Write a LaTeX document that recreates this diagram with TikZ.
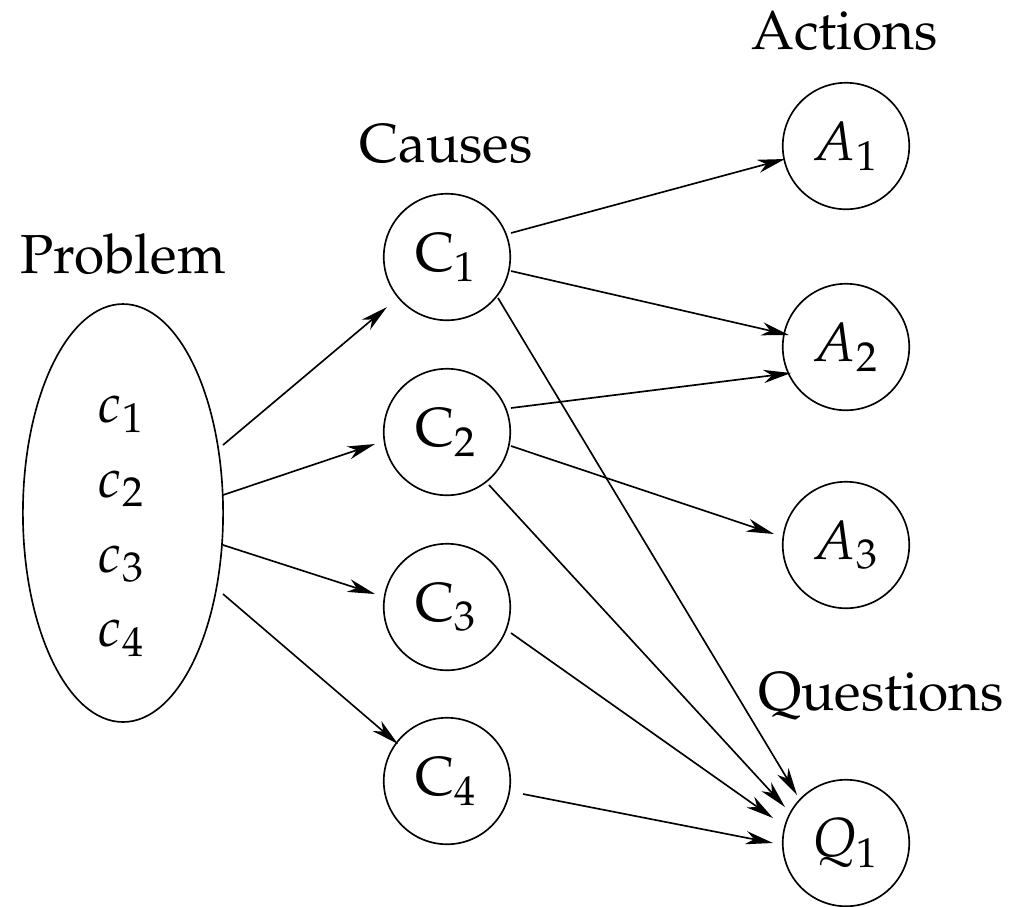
\documentclass[tikz,border=0pt]{standalone}
\usepackage[T1]{fontenc}
\usepackage{mathpazo}
\usepackage{tikz}
\usetikzlibrary{arrows.meta,shapes.geometric}

\begin{document}
\begin{tikzpicture}[x=0.18182pt,y=-0.18182pt,->,>={Stealth[length=5pt,width=2.4pt,inset=1.5pt]},
		line width=0.3pt,
		base node/.style={circle,draw,minimum size=23pt,inner sep=0pt},
		set node/.style={ellipse,draw,minimum width=36.4pt,minimum height=76pt,inner sep=0pt},
		head/.style={anchor=base}]
		\useasboundingbox (0,0) rectangle (1012,906);
		
		% problem
		\node[set node] (P) at (123,513) {};
		\foreach \i/\y in {1/422,2/497,3/572,4/646}
		\node[anchor=base] (c\i) at (122,\y) {$c_{\i}$};
		\node[head] (lprob) at (123,273) {Problem};
		
		% causes
		\node[base node] (C1) at (447,257) {$\mathrm{C}_1$};
		\node[base node] (C2) at (447,432) {$\mathrm{C}_2$};
		\node[base node] (C3) at (447,607) {$\mathrm{C}_3$};
		\node[base node] (C4) at (447,781) {$\mathrm{C}_4$};
		\node[head] (lcause) at (446,162) {Causes};
		
		% actions and questions
		\node[base node] (A1) at (846,146) {$A_1$};
		\node[base node] (A2) at (846,347) {$A_2$};
		\node[base node] (A3) at (846,545) {$A_3$};
		\node[base node] (Q1) at (846,843) {$Q_1$};
		\node[head] (lact) at (845,49) {Actions};
		\node[head] (lques) at (881,710) {Questions};
		
		\path
		([shift={(100,-68)}]P.center) edge ([shift={(-60,50)}]C1.center)
		([shift={(100,-18)}]P.center) edge ([shift={(-72,12)}]C2.center)
		([shift={(100,32)}]P.center) edge ([shift={(-72,-13)}]C3.center)
		([shift={(100,81)}]P.center) edge ([shift={(-49,-37)}]C4.center)
		([shift={(64,-24)}]C1.center) edge ([shift={(-61,13)}]A1.center)
		([shift={(64,14)}]C1.center) edge ([shift={(-57,-12)}]A2.center)
		([shift={(51,41)}]C1.center) edge ([shift={(-49,-48)}]Q1.center)
		([shift={(64,-24)}]C2.center) edge ([shift={(-55,26)}]A2.center)
		([shift={(64,14)}]C2.center) edge ([shift={(-72,-11)}]A3.center)
		([shift={(42,53)}]C2.center) edge ([shift={(-61,-36)}]Q1.center)
		([shift={(64,26)}]C3.center) edge ([shift={(-73,-25)}]Q1.center)
		([shift={(76,13)}]C4.center) edge ([shift={(-73,0)}]Q1.center);
\end{tikzpicture}
\end{document}
